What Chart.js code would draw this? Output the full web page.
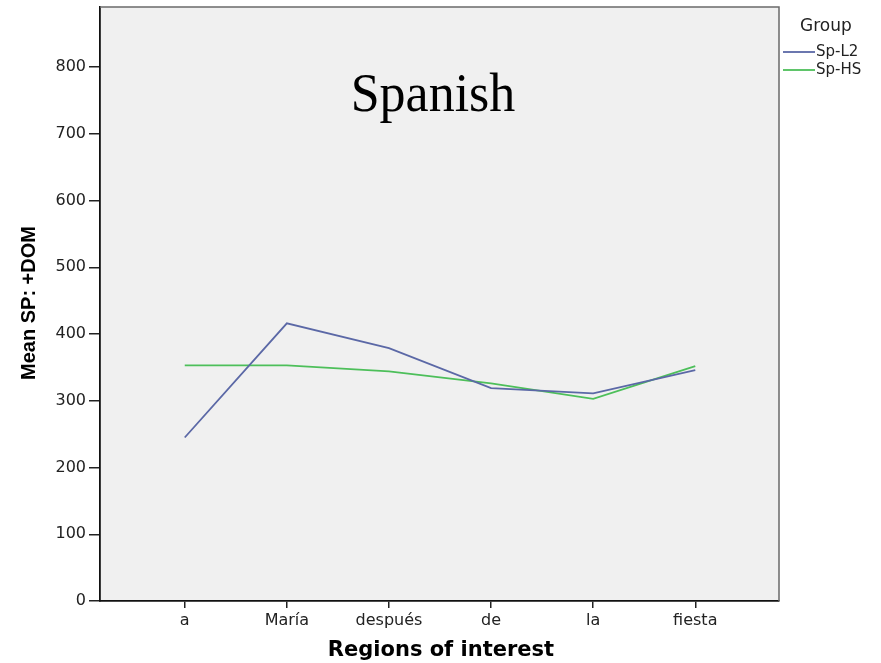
<!DOCTYPE html>
<html>
<head>
<meta charset="utf-8">
<script src="https://cdn.jsdelivr.net/npm/chart.js@4/dist/chart.umd.min.js"></script>
<style>
  html, body { margin: 0; padding: 0; background: #ffffff; }
  #wrap { width: 881px; height: 663px; }
</style>
</head>
<body>
<div id="wrap"><canvas id="c" width="881" height="663"></canvas></div>
<script>
// Regions of the sentence and mean reading times per group
const categories = ['a', 'María', 'después', 'de', 'la', 'fiesta'];
const spL2 = [245, 416, 379, 319, 311, 346];
const spHS = [353, 353, 344, 326, 303, 352];
const yTickValues = [0, 100, 200, 300, 400, 500, 600, 700, 800];

const seriesNames = ['Sp-L2', 'Sp-HS'];
const seriesColors = ['#5b68a6', '#4dbf5a'];

const toPoints = arr => arr.map((v, i) => ({ x: i, y: v }));

const TICK_FONT = { family: 'DejaVu Sans', size: 16 };

const decorations = {
  id: 'decorations',
  beforeDraw(chart) {
    const { ctx, chartArea: a } = chart;
    ctx.save();
    ctx.fillStyle = '#f0f0f0';
    ctx.fillRect(a.left, a.top, a.right - a.left, a.bottom - a.top);
    ctx.restore();
  },
  afterDraw(chart) {
    const { ctx, chartArea: a } = chart;
    ctx.save();
    // frame on top and right
    ctx.strokeStyle = '#6a6a6a';
    ctx.lineWidth = 1.5;
    ctx.beginPath();
    ctx.moveTo(a.left, a.top);
    ctx.lineTo(a.right, a.top);
    ctx.lineTo(a.right, a.bottom);
    ctx.stroke();

    // panel title
    ctx.fillStyle = '#000';
    ctx.font = '52px "Liberation Serif", "Times New Roman", serif';
    ctx.textAlign = 'center';
    ctx.textBaseline = 'alphabetic';
    ctx.save();
    ctx.translate(433, 111);
    ctx.scale(1, 1.06);
    ctx.fillText('Spanish', 0, 0);
    ctx.restore();

    // axis titles
    ctx.font = 'bold 20px "Liberation Sans", Arial, sans-serif';
    ctx.save();
    ctx.translate(29, 303);
    ctx.rotate(-Math.PI / 2);
    ctx.textAlign = 'center';
    ctx.textBaseline = 'middle';
    ctx.fillText('Mean SP: +DOM', 0, 0);
    ctx.restore();

    ctx.font = 'bold 21px "DejaVu Sans", sans-serif';
    ctx.textAlign = 'center';
    ctx.textBaseline = 'middle';
    ctx.fillText('Regions of interest', 441, 651);

    // legend
    ctx.font = '17px "DejaVu Sans", sans-serif';
    ctx.textAlign = 'left';
    ctx.fillStyle = '#222';
    ctx.fillText('Group', 800, 27);
    ctx.font = '15px "DejaVu Sans", sans-serif';
    chart.data.datasets.forEach((ds, i) => {
      const y = 52 + i * 18;
      ctx.strokeStyle = ds.borderColor;
      ctx.lineWidth = 1.8;
      ctx.beginPath();
      ctx.moveTo(783, y);
      ctx.lineTo(815, y);
      ctx.stroke();
      ctx.fillStyle = '#222';
      ctx.fillText(ds.label, 816, y);
    });
    ctx.restore();
  }
};

new Chart(document.getElementById('c'), {
  type: 'line',
  data: {
    datasets: [
      { label: seriesNames[0], data: toPoints(spL2), borderColor: seriesColors[0], borderWidth: 1.8, pointRadius: 0, tension: 0, fill: false },
      { label: seriesNames[1], data: toPoints(spHS), borderColor: seriesColors[1], borderWidth: 1.8, pointRadius: 0, tension: 0, fill: false }
    ]
  },
  options: {
    responsive: false,
    animation: false,
    layout: { padding: { left: 0, right: 102, top: 7, bottom: 0 } },
    plugins: { legend: { display: false }, tooltip: { enabled: false }, title: { display: false } },
    scales: {
      x: {
        type: 'linear',
        min: -0.83,
        max: 5.82,
        afterBuildTicks: s => { s.ticks = categories.map((_, i) => ({ value: i })); },
        afterFit: s => { s.height = 62; s.paddingLeft = 0; s.paddingRight = 0; },
        ticks: {
          autoSkip: false,
          maxRotation: 0,
          padding: 3,
          color: '#222',
          font: TICK_FONT,
          callback: v => categories[v]
        },
        grid: { display: true, drawOnChartArea: false, drawTicks: true, tickLength: 7, color: '#222', lineWidth: 1.5 },
        border: { display: true, color: '#111', width: 1.8 }
      },
      y: {
        min: 0,
        max: 890,
        afterBuildTicks: s => { s.ticks = yTickValues.map(v => ({ value: v })); },
        afterFit: s => { s.width = 100; s.paddingTop = 0; s.paddingBottom = 0; },
        ticks: { padding: 3, color: '#222', font: TICK_FONT },
        grid: { display: true, drawOnChartArea: false, drawTicks: true, tickLength: 11, color: '#222', lineWidth: 1.5 },
        border: { display: true, color: '#111', width: 1.8 }
      }
    }
  },
  plugins: [decorations]
});
</script>
</body>
</html>
